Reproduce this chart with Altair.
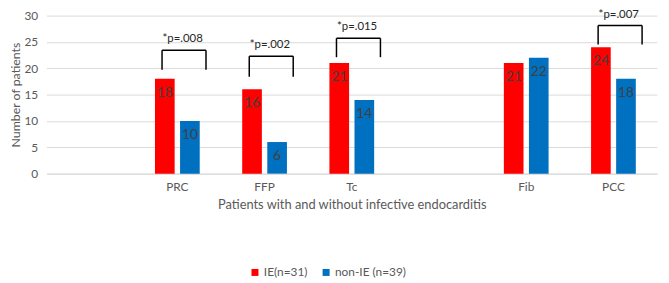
import altair as alt
import pandas as pd

# Data
slots = ["_a", "PRC", "FFP", "Tc", "_b", "Fib", "PCC"]
cats = ["PRC", "FFP", "Tc", "Fib", "PCC"]
ie_vals = [18, 16, 21, 21, 24]
non_ie_vals = [10, 6, 14, 22, 18]
groups = ["IE(n=31)", "non-IE (n=39)"]
colors = ["#FF0000", "#0070C0"]

bracket_cats = ["PRC", "FFP", "Tc", "PCC"]
bracket_top = [23.4, 22.3, 25.7, 28.1]
bracket_bottom = [19.7, 18.4, 22.1, 24.5]
p_labels = ["*p=.008", "*p=.002", "*p=.015", "*p=.007"]
y_ticks = [0, 5, 10, 15, 20, 25, 30]

FONT = "Lato"

rows = []
for c, a, b in zip(cats, ie_vals, non_ie_vals):
    rows.append({"cat": c, "group": groups[0], "value": a})
    rows.append({"cat": c, "group": groups[1], "value": b})
df = pd.DataFrame(rows)

br = pd.DataFrame({"cat": bracket_cats, "top": bracket_top,
                   "bottom": bracket_bottom, "label": p_labels})

x_scale = alt.Scale(domain=slots, paddingInner=0, paddingOuter=0)
x_axis = alt.Axis(title="Patients with and without infective endocarditis",
                  labelExpr="indexof(datum.label, '_') == 0 ? '' : datum.label",
                  labelAngle=0, ticks=False, domainColor="#d9d9d9",
                  labelColor="#595959", labelFont=FONT, labelFontSize=12,
                  labelPadding=8,
                  titleColor="#595959", titleFont=FONT, titleFontSize=13,
                  titleFontWeight="normal", titlePadding=6)
x_enc = alt.X("cat:N", scale=x_scale, sort=slots, axis=x_axis)

y_scale = alt.Scale(domain=[0, 30])
y_axis = alt.Axis(title="Number of patients", values=y_ticks,
                  labelOverlap=False,
                  ticks=False, domain=False, gridColor="#d9d9d9",
                  labelColor="#595959", labelFont=FONT, labelFontSize=12,
                  labelPadding=9,
                  titleColor="#595959", titleFont=FONT, titleFontSize=12.5,
                  titleFontWeight="normal", titlePadding=1)

xoff = alt.XOffset("group:N", scale=alt.Scale(domain=groups, paddingInner=0.216, paddingOuter=0.847))

base = alt.Chart(df)
bars = base.mark_bar().encode(
    x=x_enc, y=alt.Y("value:Q", scale=y_scale, axis=y_axis), xOffset=xoff,
    color=alt.Color("group:N", scale=alt.Scale(domain=groups, range=colors),
                    legend=alt.Legend(title=None, orient="none", direction="horizontal",
                                      legendX=205, legendY=254, symbolType="square",
                                      symbolSize=50, symbolStrokeWidth=0,
                                      labelFont=FONT, labelFontSize=12,
                                      labelColor="#595959", columnPadding=12,
                                      symbolOffset=0, labelOffset=3)),
)
vals = base.mark_text(baseline="middle", dy=14, font=FONT, fontSize=14, color="#404040").encode(
    x=x_enc, y=alt.Y("value:Q", scale=y_scale, axis=y_axis), xOffset="group:N", text="value:Q")

bc = alt.Chart(br)
y_top = alt.Y("top:Q", scale=y_scale, axis=y_axis)
hline = bc.mark_rule(color="#000000", strokeWidth=1.5, xOffset=-15.5, x2Offset=29).encode(
    x=x_enc, x2="cat:N", y=y_top)
leg1 = bc.mark_rule(color="#000000", strokeWidth=1.5, xOffset=-15.5).encode(
    x=x_enc, y=y_top, y2="bottom:Q")
leg2 = bc.mark_rule(color="#000000", strokeWidth=1.5, xOffset=29).encode(
    x=x_enc, y=y_top, y2="bottom:Q")
ptxt = bc.mark_text(baseline="middle", align="left", dx=-15, dy=-11, font=FONT,
                    fontSize=11.5, color="#262626").encode(
    x=x_enc, y=y_top, text="label:N")

chart = alt.layer(bars, vals, hline, leg1, leg2, ptxt).properties(
    width=618, height=160,
    autosize=alt.AutoSizeParams(type="none"),
    padding={"left": 39, "top": 6, "right": 4, "bottom": 108},
).configure_view(stroke=None)

chart.save("out.html", embed_options={"renderer": "svg", "actions": False})
